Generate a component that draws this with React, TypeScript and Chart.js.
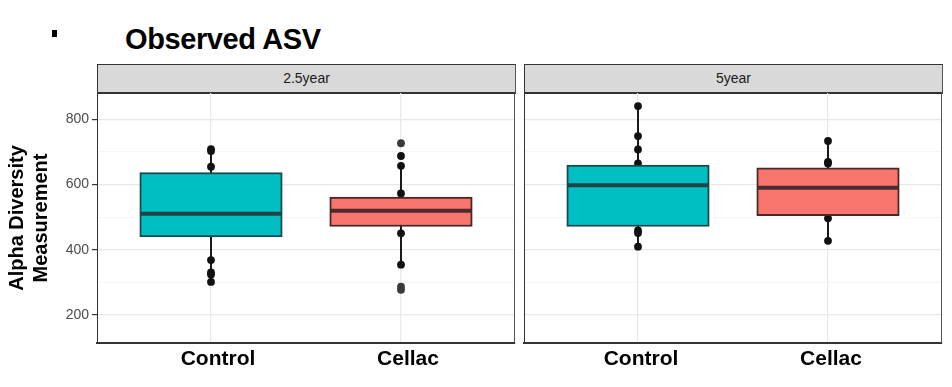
import React, { useEffect, useRef } from 'react';
import { Chart, registerables } from 'chart.js';

Chart.register(...registerables);

// ---------- data ----------
const categories = ['Control', 'Cellac'];
const panelLabels = ['2.5year', '5year'];
const chartTitle = 'Observed ASV';
const yTitle = ['Alpha Diversity', 'Measurement'];

// box stats: [q1, median, q3, whiskerLow, whiskerHigh]
const control25Box = [439, 510, 636, 301, 707];
const celiac25Box = [471, 519, 561, 354, 657];
const control5Box = [471, 597, 659, 409, 840];
const celiac5Box = [504, 590, 651, 427, 733];

// visible sample points
const control25Points = [708, 702, 654, 368, 330, 324, 301];
const celiac25Points = [687, 657, 572, 450, 354];
const control25Outliers: number[] = [];
const celiac25Outliers = [726, 287, 277];
const control5Points = [840, 748, 707, 664, 459, 451, 409];
const celiac5Points = [733, 669, 664, 496, 427];
const control5Outliers: number[] = [];
const celiac5Outliers: number[] = [];

const yTickLabels = [200, 400, 600, 800];
const yGridValues = [200, 300, 400, 500, 600, 700, 800];
const yMin = 114;
const yMax = 880;
const xMin = 0.4;
const xMax = 2.6;

// ---------- styles ----------
const FONT = "'Liberation Sans', Arial, Helvetica, sans-serif";
const fillColors = ['#00BFC4', '#F8766D'];
const borderColors = ['#1c4a4b', '#4a2626'];
const medianColors = ['#1e4444', '#4b2b2b'];

const boxPlugin = {
  id: 'boxExtras',
  beforeDatasetsDraw(chart: any, _args: any, opts: any) {
    const { ctx, scales } = chart;
    const x = scales.x, y = scales.y;
    ctx.save();
    ctx.strokeStyle = '#1a1a1a';
    ctx.lineWidth = 2;
    opts.boxes.forEach((b: number[], i: number) => {
      const px = x.getPixelForValue(i + 1);
      ctx.beginPath();
      ctx.moveTo(px, y.getPixelForValue(b[3]));
      ctx.lineTo(px, y.getPixelForValue(b[4]));
      ctx.stroke();
    });
    ctx.restore();
  },
  afterDatasetsDraw(chart: any, _args: any, opts: any) {
    const { ctx, scales } = chart;
    const y = scales.y;
    const meta = chart.getDatasetMeta(opts.barIndex);
    ctx.save();
    ctx.lineWidth = 4;
    opts.boxes.forEach((b: number[], i: number) => {
      const el: any = meta.data[i];
      if (!el) return;
      const half = el.width / 2;
      const py = y.getPixelForValue(b[1]);
      ctx.strokeStyle = medianColors[i];
      ctx.beginPath();
      ctx.moveTo(el.x - half + 1, py);
      ctx.lineTo(el.x + half - 1, py);
      ctx.stroke();
    });
    ctx.restore();
  },
  afterDraw(chart: any) {
    const { ctx, chartArea } = chart;
    ctx.save();
    ctx.strokeStyle = '#555555';
    ctx.lineWidth = 1;
    ctx.beginPath();
    ctx.moveTo(chartArea.right - 0.5, chartArea.top);
    ctx.lineTo(chartArea.right - 0.5, chartArea.bottom);
    ctx.stroke();
    ctx.restore();
  },
};

function zeroPad(scale: any) {
  scale.paddingTop = 0;
  scale.paddingBottom = 0;
  scale.paddingLeft = 0;
  scale.paddingRight = 0;
}

function makeConfig(
  boxes: number[][],
  points: number[][],
  outliers: number[][],
  showY: boolean,
  yWidth: number,
  xHeight: number,
  labelShift: number
): any {
  const pts: any[] = [];
  points.forEach((arr, i) => arr.forEach((v) => pts.push({ x: i + 1, y: v })));
  const outs: any[] = [];
  outliers.forEach((arr, i) => arr.forEach((v) => outs.push({ x: i + 1, y: v })));
  return {
    type: 'bar',
    data: {
      datasets: [
        {
          type: 'bar',
          data: boxes.map((b, i) => ({ x: i + 1, y: [b[0], b[2]] })),
          backgroundColor: fillColors,
          borderColor: borderColors,
          borderWidth: 2,
          borderSkipped: false,
          barThickness: 142.5,
          order: 1,
        },
        {
          type: 'scatter',
          data: pts,
          pointRadius: 3.9,
          pointBackgroundColor: '#111111',
          pointBorderColor: '#111111',
          pointBorderWidth: 0,
          order: 2,
        },
        {
          type: 'scatter',
          data: outs,
          pointRadius: 3.9,
          pointBackgroundColor: '#3a3a3a',
          pointBorderColor: '#3a3a3a',
          pointBorderWidth: 0,
          order: 3,
        },
      ],
    },
    options: {
      responsive: false,
      animation: false,
      events: [],
      layout: { autoPadding: false, padding: { top: 0, left: 0, right: 1, bottom: 0 } },
      plugins: {
        legend: { display: false },
        tooltip: { enabled: false },
        boxExtras: { boxes, barIndex: 0 },
      },
      scales: {
        x: {
          type: 'linear',
          min: xMin,
          max: xMax,
          offset: false,
          afterBuildTicks: (s: any) => {
            s.ticks = categories.map((_, i) => ({ value: i + 1 }));
          },
          afterFit: (s: any) => {
            s.height = xHeight;
            zeroPad(s);
          },
          ticks: {
            callback: (v: any) => categories[Number(v) - 1] ?? '',
            color: '#000000',
            font: { family: FONT, size: 21, weight: 'bold' },
            padding: 4,
            labelOffset: labelShift,
            maxRotation: 0,
            autoSkip: false,
          },
          grid: { color: '#e8e8e8', lineWidth: 1.2, drawTicks: false, offset: false },
          border: { display: true, color: '#333333', width: 2 },
        },
        y: {
          type: 'linear',
          min: yMin,
          max: yMax,
          afterBuildTicks: (s: any) => {
            s.ticks = yGridValues.map((v) => ({ value: v }));
          },
          afterFit: (s: any) => {
            s.width = yWidth;
            zeroPad(s);
          },
          ticks: {
            display: showY,
            callback: (v: any) => (yTickLabels.includes(Number(v)) ? String(v) : ''),
            color: '#4d4d4d',
            font: { family: FONT, size: 14 },
            padding: 3,
          },
          grid: {
            color: (c: any) => (yTickLabels.includes(c.tick?.value) ? '#e8e8e8' : '#f2f2f2'),
            lineWidth: (c: any) => (yTickLabels.includes(c.tick?.value) ? 1.2 : 0.8),
            drawTicks: showY,
            tickLength: 5,
            tickColor: (c: any) => (yTickLabels.includes(c.tick?.value) ? '#333333' : 'rgba(0,0,0,0)'),
          },
          border: { display: true, color: '#333333', width: 1 },
          title: {
            display: showY,
            text: yTitle,
            color: '#000000',
            font: { family: FONT, size: 20, weight: 'bold', lineHeight: 1.2 },
            padding: { top: 5, bottom: 0 },
          },
        },
      },
    },
    plugins: [boxPlugin],
  };
}

function Strip({ left, width, label }: { left: number; width: number; label: string }) {
  return (
    <div
      style={{
        position: 'absolute',
        left,
        top: 64,
        width,
        height: 27,
        background: '#d9d9d9',
        borderTop: '1px solid #333',
        borderLeft: '1px solid #333',
        borderRight: '1px solid #555',
        borderBottom: '2px solid #333',
        boxSizing: 'content-box',
        color: '#1a1a1a',
        fontFamily: FONT,
        fontSize: 14,
        lineHeight: '27px',
        textAlign: 'center',
      }}
    >
      {label}
    </div>
  );
}

export default function App() {
  const leftRef = useRef<HTMLCanvasElement>(null);
  const rightRef = useRef<HTMLCanvasElement>(null);

  useEffect(() => {
    const c1 = new Chart(
      leftRef.current as HTMLCanvasElement,
      makeConfig(
        [control25Box, celiac25Box],
        [control25Points, celiac25Points],
        [control25Outliers, celiac25Outliers],
        true,
        97,
        44,
        7
      )
    );
    const c2 = new Chart(
      rightRef.current as HTMLCanvasElement,
      makeConfig(
        [control5Box, celiac5Box],
        [control5Points, celiac5Points],
        [control5Outliers, celiac5Outliers],
        false,
        4,
        44,
        3
      )
    );
    return () => {
      c1.destroy();
      c2.destroy();
    };
  }, []);

  return (
    <div
      style={{
        position: 'absolute',
        left: 0,
        top: 0,
        width: 952,
        height: 387,
        background: '#ffffff',
        overflow: 'hidden',
        fontFamily: FONT,
      }}
    >
      <div style={{ position: 'absolute', left: 52, top: 30, width: 5, height: 7, background: '#000' }} />
      <div
        style={{
          position: 'absolute',
          left: 125,
          top: 25,
          fontFamily: FONT,
          fontWeight: 'bold',
          fontSize: 29,
          lineHeight: '29px',
          letterSpacing: '-0.4px',
          color: '#000',
          whiteSpace: 'nowrap',
        }}
      >
        {chartTitle}
      </div>
      <Strip left={97} width={417} label={panelLabels[0]} />
      <Strip left={524} width={417} label={panelLabels[1]} />
      <canvas
        ref={leftRef}
        width={516}
        height={294}
        style={{ position: 'absolute', left: 0, top: 93, width: 516, height: 294 }}
      />
      <canvas
        ref={rightRef}
        width={423}
        height={294}
        style={{ position: 'absolute', left: 520, top: 93, width: 423, height: 294 }}
      />
    </div>
  );
}
